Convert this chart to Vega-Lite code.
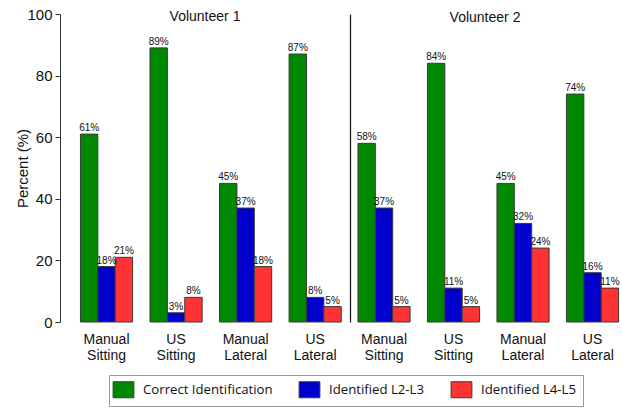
{
  "$schema": "https://vega.github.io/schema/vega-lite/v6.json",
  "padding": {"left": 15, "top": 7, "right": 2, "bottom": 4},
  "background": "white",
  "data": {"values": [
    {"vol": "Volunteer 1", "cond": "Manual Sitting", "series": "Correct Identification", "value": 61},
    {"vol": "Volunteer 1", "cond": "Manual Sitting", "series": "Identified L2-L3", "value": 18},
    {"vol": "Volunteer 1", "cond": "Manual Sitting", "series": "Identified L4-L5", "value": 21},
    {"vol": "Volunteer 1", "cond": "US Sitting", "series": "Correct Identification", "value": 89},
    {"vol": "Volunteer 1", "cond": "US Sitting", "series": "Identified L2-L3", "value": 3},
    {"vol": "Volunteer 1", "cond": "US Sitting", "series": "Identified L4-L5", "value": 8},
    {"vol": "Volunteer 1", "cond": "Manual Lateral", "series": "Correct Identification", "value": 45},
    {"vol": "Volunteer 1", "cond": "Manual Lateral", "series": "Identified L2-L3", "value": 37},
    {"vol": "Volunteer 1", "cond": "Manual Lateral", "series": "Identified L4-L5", "value": 18},
    {"vol": "Volunteer 1", "cond": "US Lateral", "series": "Correct Identification", "value": 87},
    {"vol": "Volunteer 1", "cond": "US Lateral", "series": "Identified L2-L3", "value": 8},
    {"vol": "Volunteer 1", "cond": "US Lateral", "series": "Identified L4-L5", "value": 5},
    {"vol": "Volunteer 2", "cond": "Manual Sitting", "series": "Correct Identification", "value": 58},
    {"vol": "Volunteer 2", "cond": "Manual Sitting", "series": "Identified L2-L3", "value": 37},
    {"vol": "Volunteer 2", "cond": "Manual Sitting", "series": "Identified L4-L5", "value": 5},
    {"vol": "Volunteer 2", "cond": "US Sitting", "series": "Correct Identification", "value": 84},
    {"vol": "Volunteer 2", "cond": "US Sitting", "series": "Identified L2-L3", "value": 11},
    {"vol": "Volunteer 2", "cond": "US Sitting", "series": "Identified L4-L5", "value": 5},
    {"vol": "Volunteer 2", "cond": "Manual Lateral", "series": "Correct Identification", "value": 45},
    {"vol": "Volunteer 2", "cond": "Manual Lateral", "series": "Identified L2-L3", "value": 32},
    {"vol": "Volunteer 2", "cond": "Manual Lateral", "series": "Identified L4-L5", "value": 24},
    {"vol": "Volunteer 2", "cond": "US Lateral", "series": "Correct Identification", "value": 74},
    {"vol": "Volunteer 2", "cond": "US Lateral", "series": "Identified L2-L3", "value": 16},
    {"vol": "Volunteer 2", "cond": "US Lateral", "series": "Identified L4-L5", "value": 11}
  ]},
  "spacing": 0,
  "resolve": {"scale": {"x": "independent", "xOffset": "independent", "y": "shared", "color": "shared"}},
  "hconcat": [
    {
      "width": 290,
      "height": 308,
      "title": {"text": "Volunteer 1", "frame": "group", "offset": -17, "fontSize": 14, "fontWeight": "normal", "font": "Liberation Sans", "color": "#111"},
      "transform": [{"filter": "datum.vol === 'Volunteer 1'"}],
      "encoding": {
        "x": {"field": "cond", "type": "nominal", "sort": ["Manual Sitting", "US Sitting", "Manual Lateral", "US Lateral"],
              "scale": {"paddingInner": 0.25, "paddingOuter": 0.21, "align": 0.7},
              "axis": {"title": null, "domain": false, "ticks": false, "labelAngle": 0, "labelPadding": 10, "labelFontSize": 14, "labelLineHeight": 16, "labelExpr": "split(datum.label, ' ')", "labelColor": "#111"}},
        "xOffset": {"field": "series", "type": "nominal", "sort": ["Correct Identification", "Identified L2-L3", "Identified L4-L5"], "scale": {"paddingInner": 0, "paddingOuter": 0}},
        "y": {"field": "value", "type": "quantitative", "scale": {"domain": [0, 100], "nice": false},
              "axis": {"title": "Percent (%)", "values": [0, 20, 40, 60, 80, 100], "grid": false, "tickSize": 5, "labelPadding": 3, "labelFontSize": 15, "titleFontSize": 15, "titleFontWeight": "normal", "titlePadding": -4, "domainColor": "#333", "tickColor": "#333", "labelColor": "#111", "titleColor": "#111"}}
      },
      "layer": [
        {"mark": {"type": "bar", "stroke": "#3a3a3a", "strokeWidth": 1},
         "encoding": {"color": {"field": "series", "type": "nominal",
            "scale": {"domain": ["Correct Identification", "Identified L2-L3", "Identified L4-L5"], "range": ["#008800", "#0000CC", "#FF3333"]},
            "legend": {"title": null, "orient": "none", "legendX": 49, "legendY": 361, "direction": "horizontal",
                       "strokeColor": "#999", "padding": 6, "symbolType": "M-1.3,-1L1.3,-1L1.3,1L-1.3,1Z", "symbolSize": 256,
                       "symbolStrokeColor": "#444", "symbolStrokeWidth": 1, "symbolOpacity": 1, "labelFont": "Open Sans", "labelFontSize": 13.2, "labelColor": "#111",
                       "labelOffset": 11, "columnPadding": 24}}}},
        {"mark": {"type": "text", "baseline": "bottom", "dy": -1, "font": "Liberation Sans", "fontSize": 10, "color": "#111", "text": {"expr": "datum.value + '%'"}}}
      ]
    },
    {
      "width": 270,
      "height": 308,
      "title": {"text": "Volunteer 2", "frame": "group", "offset": -11, "fontSize": 14, "fontWeight": "normal", "font": "Liberation Sans", "color": "#111"},
      "transform": [{"filter": "datum.vol === 'Volunteer 2'"}],
      "encoding": {
        "x": {"field": "cond", "type": "nominal", "sort": ["Manual Sitting", "US Sitting", "Manual Lateral", "US Lateral"],
              "scale": {"paddingInner": 0.25, "paddingOuter": 0.0674, "align": 0.85},
              "axis": {"title": null, "domain": false, "ticks": false, "labelAngle": 0, "labelPadding": 10, "labelFontSize": 14, "labelLineHeight": 16, "labelExpr": "split(datum.label, ' ')", "labelColor": "#111"}},
        "xOffset": {"field": "series", "type": "nominal", "sort": ["Correct Identification", "Identified L2-L3", "Identified L4-L5"], "scale": {"paddingInner": 0, "paddingOuter": 0}},
        "y": {"field": "value", "type": "quantitative",
              "axis": {"title": null, "labels": false, "ticks": false, "grid": false, "domainColor": "#222", "domainWidth": 1.3}}
      },
      "layer": [
        {"mark": {"type": "bar", "stroke": "#3a3a3a", "strokeWidth": 1},
         "encoding": {"color": {"field": "series", "type": "nominal"}}},
        {"mark": {"type": "text", "baseline": "bottom", "dy": -1, "font": "Liberation Sans", "fontSize": 10, "color": "#111", "text": {"expr": "datum.value + '%'"}}}
      ]
    }
  ],
  "config": {
    "view": {"stroke": null},
    "font": "Liberation Sans",
    "axis": {"labelFont": "Liberation Sans", "titleFont": "Liberation Sans"}
  }
}
